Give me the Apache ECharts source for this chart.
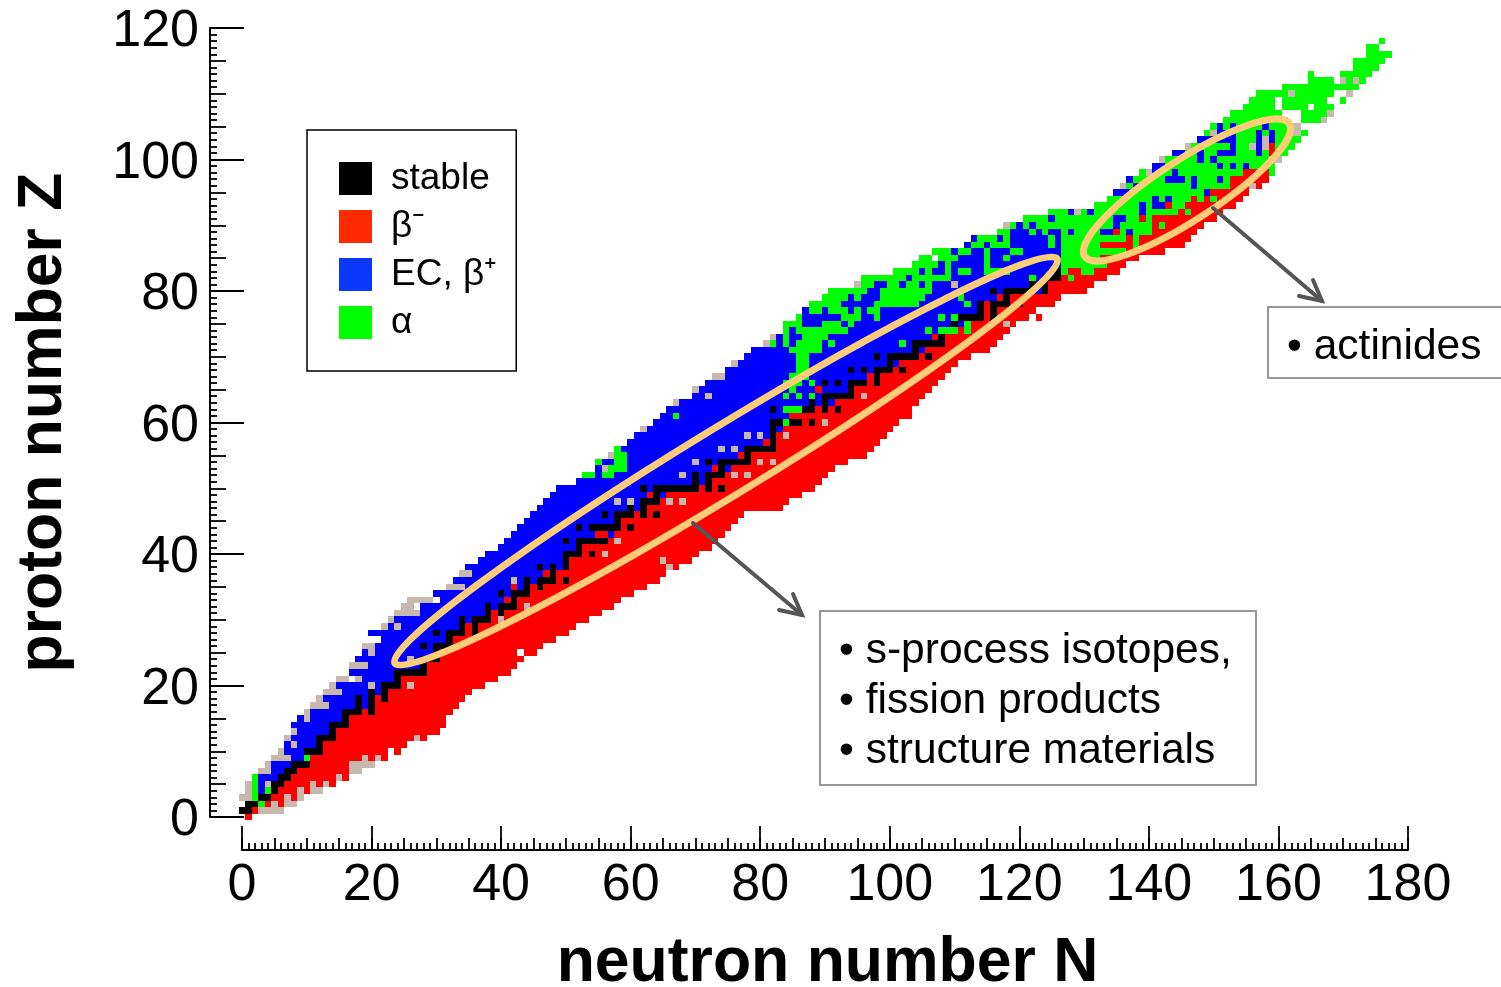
<!DOCTYPE html>
<html>
<head>
<meta charset="utf-8">
<style>html,body{margin:0;padding:0;background:#fff}#chart{width:1501px;height:987px}</style>
<script src="https://cdn.jsdelivr.net/npm/echarts@6/dist/echarts.min.js"></script>
</head>
<body>
<div id="chart"></div>
<script>
// every run is [Z, first N, last N]
const ecRuns = [[4,3,3],[5,3,3],[6,3,5],[7,5,6],[8,5,7],[9,8,9],[10,7,9],[11,7,11],[12,8,11],[13,9,13],[14,8,13],[15,9,15],[16,11,15],[17,14,19],[18,13,19],[19,16,21],[20,15,21],[21,19,23],[22,17,23],[23,20,27],[24,18,27],[25,19,29],[26,21,29],[27,22,31],[28,20,31],[29,23,33],[30,24,35],[31,28,37],[32,28,39],[33,31,40],[34,30,41],[35,35,41],[35,43,43],[36,33,45],[37,36,46],[38,35,49],[39,37,49],[40,38,49],[41,40,51],[42,41,51],[43,42,54],[43,57,57],[44,43,53],[45,44,57],[46,45,57],[47,46,61],[48,47,61],[49,48,62],[49,65,65],[50,49,63],[51,52,71],[52,55,71],[53,55,72],[53,75,75],[54,56,73],[55,58,76],[56,59,77],[57,60,80],[58,61,81],[59,63,81],[59,83,83],[60,64,81],[61,65,84],[62,66,81],[62,83,83],[63,68,87],[63,89,89],[63,91,91],[64,70,89],[65,71,88],[65,90,93],[66,72,89],[66,91,91],[66,93,93],[67,75,96],[68,75,93],[68,95,95],[68,97,97],[69,77,99],[69,101,101],[70,78,97],[70,99,99],[71,79,103],[71,105,105],[72,83,103],[73,83,106],[74,85,107],[75,87,109],[75,111,111],[76,87,110],[77,87,113],[78,93,113],[79,94,116],[80,97,115],[80,117,117],[80,123,123],[81,98,121],[81,123,123],[82,103,123],[83,105,125],
[84,108,108],[84,110,114],[84,116,126],[85,111,114],[85,116,117],[85,119,126],[86,110,110],[86,113,114],[86,116,118],[86,121,126],[87,112,112],[87,115,115],[87,119,124],[87,126,126],[88,113,113],[88,117,117],[88,119,124],[88,126,126],[89,119,121],[89,123,123],[89,125,126],[89,128,128],[89,133,134],[89,137,137],[90,120,120],[90,122,122],[90,135,135],[91,125,125],[91,135,136],[92,128,128],[92,131,131],[92,139,139],[93,139,139],[93,141,142],[94,141,141],[94,143,143],[95,135,137],[95,149,149],[96,138,138],[96,147,147],[97,137,137],[97,143,145],[97,147,147],[97,151,151],[98,141,141],[98,144,144],[99,141,142],[99,151,151],[99,153,153],[99,155,155],[100,148,148],[100,150,150],[101,144,145],[101,148,148],[101,151,153],[101,157,157],[102,153,153],[102,157,157],[103,148,153],[103,157,157],[103,159,159],[104,151,153],[104,157,157],[104,159,159],[105,151,151],[105,153,153],[105,158,158]];

const betaRuns = [[0,1,1],[1,2,2],[2,4,4],[2,6,6],[3,5,8],[4,6,10],[5,7,14],[6,8,16],[7,9,16],[8,11,16],[9,11,22],[10,13,22],[10,24,24],[11,13,25],[12,15,28],[13,15,30],[14,17,31],[15,17,31],[16,19,19],[16,21,32],[17,21,33],[18,21,21],[18,23,34],[19,23,35],[20,25,37],[21,25,39],[22,29,41],[23,29,42],[24,31,43],[25,31,42],[25,44,45],[26,33,46],[27,33,48],[28,35,35],[28,37,50],[29,35,35],[29,37,51],[30,39,53],[31,39,39],[31,41,55],[32,43,57],[33,41,41],[33,43,58],[34,45,60],[35,42,42],[35,45,45],[35,47,62],[36,49,49],[36,51,64],[37,47,47],[37,49,65],[38,51,67],[39,51,69],[40,53,53],[40,55,55],[40,57,70],[41,53,72],[42,57,57],[42,59,73],[43,55,56],[43,58,74],[44,59,59],[44,61,75],[45,59,76],[46,61,61],[46,63,63],[46,65,77],[47,63,83],[48,65,84],[49,63,63],[49,66,86],[50,71,71],[50,73,73],[50,75,88],[51,73,89],[52,75,90],[53,73,73],[53,76,91],[54,79,93],[55,77,77],[55,79,96],[56,83,97],[57,81,81],[57,83,98],[58,83,99],[59,84,100],[60,87,87],[60,89,101],[61,85,103],[62,89,89],[62,91,91],[62,93,103],[63,92,104],[64,95,105],[65,89,89],[65,95,106],[66,97,97],[66,99,107],[67,97,97],[67,99,108],[68,101,101],[68,103,109],[69,102,110],[70,105,105],[70,107,112],[71,106,115],[72,109,116],[73,107,107],[73,109,117],[74,111,111],[74,113,118],[75,113,119],[76,115,115],[76,117,121],[76,123,123],[77,115,115],[77,117,122],[78,115,115],[78,119,119],[78,121,125],[79,117,117],[79,119,126],[80,125,130],[81,125,131],[82,127,127],[82,129,133],[83,128,129],[83,132,135],[84,134,136],[85,133,138],[86,137,142],[87,133,137],[87,139,145],[88,137,137],[88,139,146],[89,135,135],[89,141,147],[90,141,141],[90,143,148],[91,139,139],[91,141,150],[92,145,145],[92,147,151],[93,143,143],[93,146,153],[94,147,147],[94,149,149],[94,151,154],[95,150,155],[96,153,155],[96,157,157],[97,153,158],[98,155,158],[101,159,159],[102,159,159]];

const alphaRuns = [[2,3,3],[3,2,2],[4,2,2],[4,4,4],[5,2,2],[6,2,2],[9,10,10],[52,53,54],[52,56,57],[53,57,59],[54,55,55],[54,58,59],[55,58,59],[56,58,58],[60,84,84],[61,67,67],[62,84,86],[64,84,84],[64,86,86],[64,88,88],[65,85,85],[66,84,86],[66,88,88],[67,85,87],[68,86,87],[69,86,87],[70,86,87],[71,85,89],[72,82,82],[72,84,84],[72,86,89],[72,91,91],[72,102,102],[73,84,84],[73,87,90],[74,84,84],[74,86,93],[74,106,106],[74,108,110],[74,112,112],[75,84,86],[75,90,92],[75,94,94],[75,112,112],[76,86,86],[76,93,95],[76,98,98],[76,108,108],[76,110,110],[77,88,89],[77,91,93],[77,95,95],[77,97,98],[78,88,92],[78,98,104],[78,112,112],[79,90,93],[79,95,95],[79,99,105],[79,111,111],[80,91,96],[80,99,106],[81,96,97],[81,100,101],[81,103,104],[81,106,106],[82,96,102],[82,104,109],[82,122,122],[82,128,128],[83,101,104],[83,106,106],[83,109,109],[83,111,112],[83,115,118],[83,127,127],[83,130,131],
[84,104,107],[84,109,109],[84,115,115],[84,127,133],[85,105,106],[85,108,110],[85,115,115],[85,118,118],[85,127,132],[86,107,109],[86,111,112],[86,115,115],[86,119,120],[86,127,136],[87,113,114],[87,116,118],[87,125,125],[87,127,132],[87,138,138],[88,114,116],[88,118,118],[88,125,125],[88,127,136],[88,138,138],[89,117,118],[89,122,122],[89,124,124],[89,127,127],[89,129,132],[89,136,136],[89,138,140],[90,119,119],[90,121,121],[90,123,134],[90,136,140],[90,142,142],[91,121,124],[91,126,134],[91,137,138],[91,140,140],[92,125,127],[92,130,130],[92,132,138],[92,140,144],[92,146,146],[93,132,138],[93,140,140],[93,144,145],[94,134,140],[94,142,142],[94,144,146],[94,148,148],[94,150,150],[95,138,148],[96,137,137],[96,139,146],[96,148,152],[97,138,142],[97,146,146],[97,148,150],[97,152,152],[98,139,139],[98,142,143],[98,145,154],[98,159,159],[99,143,150],[99,152,152],[99,154,154],[99,156,159],[100,143,147],[100,149,149],[100,151,158],[101,146,147],[101,149,150],[101,154,156],[101,158,158],[101,160,161],[102,147,152],[102,154,155],[102,160,162],[103,154,156],[103,160,163],[104,149,149],[104,154,156],[104,158,158],[104,160,161],[104,164,164],[105,150,150],[105,152,152],[105,154,157],[105,159,161],[106,152,161],[106,164,166],[107,153,160],[107,164,167],[108,155,159],[108,161,164],[108,166,168],[109,156,159],[109,161,167],[109,170,170],[110,157,161],[110,163,168],[111,161,172],[112,165,168],[112,171,171],[112,173,173],[113,165,165],[113,170,174],[114,172,175],[115,172,176],[116,174,177],[117,174,175],[118,176,176]];

const unknownRuns = [[1,3,6],[2,5,5],[2,7,8],[3,0,1],[3,7,7],[3,9,9],[4,1,1],[4,9,9],[4,11,12],[5,1,1],[5,4,4],[5,11,11],[5,13,13],[6,15,15],[7,3,4],[7,17,18],[8,4,4],[8,17,20],[9,5,7],[9,19,19],[9,21,21],[10,6,6],[11,8,8],[12,7,7],[12,27,27],[13,8,8],[15,10,10],[16,10,10],[17,11,13],[18,12,12],[19,13,15],[20,14,14],[20,20,20],[20,26,26],[21,15,16],[21,18,18],[23,17,19],[24,26,26],[25,20,20],[26,19,20],[29,22,22],[29,24,24],[30,23,23],[30,40,40],[31,24,27],[32,25,26],[32,44,44],[33,26,29],[35,32,34],[36,42,42],[37,34,35],[38,66,66],[39,65,65],[40,56,56],[42,58,58],[48,58,58],[48,60,60],[48,66,66],[48,68,68],[52,68,68],[52,76,76],[52,78,78],[53,56,56],[54,70,70],[54,80,80],[54,82,82],[55,57,57],[56,74,74],[56,76,76],[58,78,78],[58,80,80],[58,84,84],[59,62,62],[60,90,90],[63,67,67],[64,72,72],[64,96,96],[65,70,70],[67,73,74],[69,76,76],[72,81,81],[73,82,82],[75,118,118],[81,95,95],[81,110,110],[90,118,118],[92,129,129],[96,136,136],[96,156,156],[98,140,140],[100,142,142],[100,159,160],[102,146,146],[102,156,156],[102,158,158],[103,158,158],[104,150,150],[104,162,163],[105,162,163],[106,167,167],[107,168,168],[110,162,162],[110,171,171],[112,170,170],[112,172,172]];

const stableRuns = [[1,0,1],[2,1,2],[3,3,4],[4,5,5],[5,5,6],[6,6,7],[7,7,8],[8,8,10],[10,10,12],[11,12,12],[12,12,14],[13,14,14],[14,14,16],[15,16,16],[16,16,18],[16,20,20],[17,18,18],[17,20,20],[18,18,18],[18,20,20],[18,22,22],[19,20,20],[19,22,22],[20,22,24],[21,24,24],[22,24,28],[23,28,28],[24,28,30],[25,30,30],[26,28,28],[26,30,32],[27,32,32],[28,30,30],[28,32,34],[28,36,36],[29,34,34],[29,36,36],[30,34,34],[30,36,38],[31,38,38],[31,40,40],[32,38,38],[32,40,42],[33,42,42],[34,40,40],[34,42,44],[35,44,44],[35,46,46],[36,44,44],[36,46,48],[36,50,50],[37,48,48],[38,46,46],[38,48,48],[38,50,50],[39,50,50],[40,50,52],[40,54,54],[41,52,52],[42,50,50],[42,52,56],[44,52,52],[44,54,58],[44,60,60],[45,58,58],[46,56,56],[46,58,60],[46,62,62],[46,64,64],[47,60,60],[47,62,62],[48,62,64],[49,64,64],[50,62,62],[50,64,70],[50,72,72],[50,74,74],[51,70,70],[51,72,72],[52,70,70],[52,72,74],[53,74,74],[54,72,72],[54,74,78],[55,78,78],[56,78,82],[57,82,82],[58,82,82],[59,82,82],[60,82,83],[60,85,86],[60,88,88],[62,82,82],[62,87,88],[62,90,90],[62,92,92],[63,88,88],[63,90,90],[64,90,94],[65,94,94],[66,90,90],[66,92,92],[66,94,96],[66,98,98],[67,98,98],[68,94,94],[68,96,96],[68,98,100],[68,102,102],[69,100,100],[70,98,98],[70,100,104],[70,106,106],[71,104,104],[72,104,108],[73,108,108],[75,110,110],[76,111,114],[76,116,116],[77,114,114],[77,116,116],[78,114,114],[78,116,118],[78,120,120],[79,118,118],[80,116,116],[80,118,122],[80,124,124],[81,122,122],[81,124,124],[82,124,126],[83,126,126]];

const xTicks = {min: 0, max: 180, labelled: 20, medium: 5, fine: 5};
const yTicks = {min: 0, max: 120, labelled: 20, medium: 5, fine: 5};
const seriesNames = {stable: 'stable', beta: 'β⁻', ec: 'EC, β⁺', alpha: 'α', unknown: 'unknown'};
const noteLines1 = ['• s-process isotopes,', '• fission products', '• structure materials'];
const noteLines2 = ['• actinides'];

const FONT = '"Liberation Sans", Arial, Helvetica, sans-serif';

function cells(runs) {
  const out = [];
  runs.forEach(function (r) { for (let n = r[1]; n <= r[2]; n++) out.push([n, r[0]]); });
  return out;
}
function renderCell(params, api) {
  const a = api.coord([api.value(0) - 0.5, api.value(1) + 0.5]);
  const b = api.coord([api.value(0) + 0.5, api.value(1) - 0.5]);
  const x = Math.round(a[0]), y = Math.round(a[1]);
  return {
    type: 'rect',
    shape: {x: x, y: y, width: Math.round(b[0]) - x, height: Math.round(b[1]) - y},
    style: {fill: api.visual('color')}
  };
}
function cellSeries(name, color, runs, z) {
  return {
    type: 'custom', name: name, renderItem: renderCell, data: cells(runs),
    itemStyle: {color: color}, encode: {x: 0, y: 1}, silent: true, z: z,
    animation: false
  };
}
const tickLine = {color: '#000', width: 1.8};
function axisPair(isX, t, longLen, midLen, fineLen, off, pos, title) {
  const label = {show: true, fontFamily: FONT, fontSize: 52, color: '#000', margin: isX ? 10 : 11,
    showMinLabel: true, showMaxLabel: true};
  if (!isX) { label.verticalAlign = 'top'; label.lineHeight = 8; }
  return [{
    type: 'value', min: t.min, max: t.max, interval: t.labelled, position: pos, offset: off,
    splitLine: {show: false},
    axisLine: {show: true, onZero: false, lineStyle: {color: '#000', width: 2}},
    axisTick: {show: true, inside: true, length: longLen, lineStyle: tickLine},
    axisLabel: label,
    name: title, nameLocation: 'middle', nameGap: isX ? 82 : 135,
    nameTextStyle: {fontFamily: FONT, fontSize: 62.5, fontWeight: 'bold', color: '#000',
      padding: isX ? [0, 0, 0, 5] : 0}
  }, {
    type: 'value', min: t.min, max: t.max, interval: t.medium, position: pos, offset: off,
    splitLine: {show: false},
    axisLine: {show: false, onZero: false},
    axisTick: {show: true, inside: true, length: midLen, lineStyle: tickLine},
    minorTick: {show: true, splitNumber: t.fine, length: fineLen, lineStyle: tickLine},
    axisLabel: {show: false}
  }];
}

const chart = echarts.init(document.getElementById('chart'), null, {renderer: 'canvas'});

function boxEl(x, y, w, h) {
  return {type: 'rect', z: 100, silent: true, shape: {x: x, y: y, width: w, height: h},
    style: {fill: 'rgba(0,0,0,0)', stroke: '#999', lineWidth: 2}};
}
function textEl(s, x, y) {
  return {type: 'text', z: 101, silent: true, x: x, y: y,
    style: {text: s, fontFamily: FONT, fontSize: 42.5, fill: '#000', verticalAlign: 'middle', align: 'left'}};
}
function ringEl(cx, cy, rx, ry, deg) {
  return {type: 'ellipse', z: 90, silent: true, x: cx, y: cy, rotation: deg * Math.PI / 180,
    shape: {cx: 0, cy: 0, rx: rx, ry: ry},
    style: {fill: 'rgba(0,0,0,0)', stroke: '#ffcc77', lineWidth: 7}};
}
function arrowEls(x0, y0, x1, y1, bx0, by0, bx2, by2) {
  const st = {stroke: '#555', lineWidth: 4, fill: 'rgba(0,0,0,0)', lineCap: 'round', lineJoin: 'miter'};
  return [
    {type: 'line', z: 95, silent: true, shape: {x1: x0, y1: y0, x2: x1, y2: y1}, style: st},
    {type: 'polyline', z: 95, silent: true, shape: {points: [[bx0, by0], [x1, y1], [bx2, by2]]}, style: st}
  ];
}

const option = {
  backgroundColor: '#fff',
  animation: false,
  grid: {left: 242, top: 28, width: 1166, height: 789, containLabel: false, outerBoundsMode: 'none'},
  xAxis: axisPair(true, xTicks, 24, 12, 7, 33, 'bottom', 'neutron number N'),
  yAxis: axisPair(false, yTicks, 34, 16, 7, 32, 'left', 'proton number Z'),
  legend: {
    show: true, orient: 'vertical', left: 307, top: 130, padding: [30, 19, 30, 32],
    itemWidth: 33, itemHeight: 33, itemGap: 11, icon: 'rect',
    borderColor: '#000', borderWidth: 1.5, backgroundColor: '#fff',
    selectedMode: false, z: 50,
    data: [
      {name: seriesNames.stable, itemStyle: {color: '#000'}},
      {name: seriesNames.beta, itemStyle: {color: '#ff2a00'}},
      {name: seriesNames.ec, itemStyle: {color: '#0a38ff'}},
      {name: seriesNames.alpha, itemStyle: {color: '#00ff00'}}
    ],
    textStyle: {fontFamily: FONT, fontSize: 37, lineHeight: 29, color: '#000', padding: [4, 0, 0, 14]}
  },
  series: [
    cellSeries(seriesNames.ec, '#0000ff', ecRuns, 2),
    cellSeries(seriesNames.beta, '#ff0000', betaRuns, 3),
    cellSeries(seriesNames.alpha, '#00ff00', alphaRuns, 4),
    cellSeries(seriesNames.unknown, '#c8b8b0', unknownRuns, 5),
    cellSeries(seriesNames.stable, '#000000', stableRuns, 6)
  ],
  graphic: {elements: [
    ringEl(726, 461, 388, 34, 31.4),
    ringEl(1187, 190, 122, 30, 33)
  ].concat(
    arrowEls(693, 523, 802, 615, 779, 610, 793, 594),
    arrowEls(1213, 208, 1322, 301, 1299, 296, 1313, 280),
    [boxEl(820, 611, 436, 174), boxEl(1268, 307, 250, 71)],
    noteLines1.map(function (s, i) { return textEl(s, 839, 651 + i * 50); }),
    noteLines2.map(function (s) { return textEl(s, 1287, 347); })
  )}
};
chart.setOption(option);
</script>
</body>
</html>
